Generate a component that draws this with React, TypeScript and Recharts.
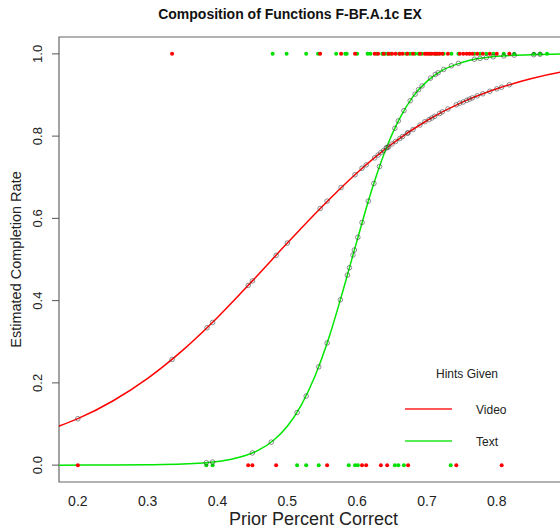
import React from 'react';
import {
  ComposedChart,
  Line,
  Scatter,
  XAxis,
  YAxis,
  ReferenceArea,
} from 'recharts';

// fitted curves
const videoCurveX = [0.17, 0.2, 0.25, 0.3, 0.35, 0.4, 0.45, 0.5, 0.55, 0.6, 0.65, 0.7, 0.75, 0.8, 0.85, 0.9, 0.92];
const videoCurveY = [0.093, 0.113, 0.156, 0.211, 0.279, 0.359, 0.448, 0.54, 0.629, 0.711, 0.781, 0.838, 0.882, 0.915, 0.94, 0.958, 0.963];

const textCurveX = [0.17, 0.25, 0.3, 0.35, 0.4, 0.42, 0.44, 0.46, 0.48, 0.5, 0.52, 0.54, 0.56, 0.58, 0.6, 0.62, 0.64, 0.66, 0.68, 0.7, 0.72, 0.75, 0.8, 0.85, 0.92];
const textCurveY = [0, 0.0002, 0.0008, 0.0026, 0.0089, 0.0145, 0.0234, 0.0377, 0.06, 0.0945, 0.146, 0.218, 0.312, 0.426, 0.547, 0.664, 0.763, 0.84, 0.896, 0.933, 0.958, 0.979, 0.994, 0.998, 1.0];

// observed outcomes (completed = 1, not completed = 0)
const videoDone = [0.335, 0.547, 0.577, 0.597, 0.625, 0.63, 0.638, 0.645, 0.65, 0.655, 0.661, 0.665, 0.672, 0.68, 0.69, 0.697, 0.7, 0.703, 0.707, 0.711, 0.714, 0.718, 0.722, 0.73, 0.747, 0.752, 0.757, 0.761, 0.765, 0.772, 0.78, 0.79, 0.8, 0.818];
const videoNotDone = [0.2, 0.444, 0.45, 0.484, 0.557, 0.607, 0.613, 0.634, 0.643, 0.673, 0.742, 0.807];
const textDone = [0.479, 0.499, 0.527, 0.544, 0.57, 0.583, 0.585, 0.6, 0.615, 0.619, 0.628, 0.636, 0.64, 0.644, 0.648, 0.66, 0.67, 0.676, 0.683, 0.688, 0.693, 0.705, 0.712, 0.716, 0.724, 0.735, 0.745, 0.768, 0.776, 0.785, 0.795, 0.81, 0.825, 0.853, 0.862, 0.872];
const textNotDone = [0.384, 0.393, 0.514, 0.527, 0.545, 0.588, 0.597, 0.601, 0.654, 0.659, 0.667, 0.734];

// fitted values per student (open circles)
const videoFitX = [0.2, 0.335, 0.385, 0.393, 0.444, 0.45, 0.484, 0.5, 0.547, 0.557, 0.577, 0.597, 0.607, 0.613, 0.625, 0.63, 0.634, 0.638, 0.643, 0.645, 0.65, 0.655, 0.661, 0.665, 0.672, 0.673, 0.68, 0.69, 0.697, 0.703, 0.707, 0.711, 0.718, 0.722, 0.73, 0.742, 0.747, 0.752, 0.757, 0.761, 0.765, 0.772, 0.78, 0.79, 0.8, 0.807, 0.818];
const videoFitY = [0.113, 0.257, 0.334, 0.347, 0.437, 0.448, 0.51, 0.54, 0.624, 0.642, 0.675, 0.706, 0.722, 0.73, 0.747, 0.754, 0.76, 0.765, 0.772, 0.774, 0.781, 0.787, 0.794, 0.799, 0.807, 0.808, 0.816, 0.827, 0.835, 0.84, 0.844, 0.848, 0.855, 0.859, 0.866, 0.876, 0.88, 0.883, 0.887, 0.89, 0.893, 0.898, 0.903, 0.909, 0.915, 0.919, 0.925];
const textFitX = [0.384, 0.393, 0.45, 0.477, 0.514, 0.527, 0.545, 0.557, 0.576, 0.586, 0.589, 0.594, 0.596, 0.601, 0.607, 0.616, 0.624, 0.632, 0.642, 0.654, 0.659, 0.667, 0.676, 0.683, 0.688, 0.693, 0.705, 0.712, 0.716, 0.724, 0.735, 0.745, 0.768, 0.776, 0.785, 0.795, 0.81, 0.825, 0.853, 0.862];
const textFitY = [0.006, 0.0075, 0.0298, 0.056, 0.128, 0.168, 0.239, 0.297, 0.402, 0.462, 0.48, 0.511, 0.523, 0.554, 0.59, 0.642, 0.685, 0.726, 0.772, 0.819, 0.837, 0.862, 0.886, 0.902, 0.913, 0.922, 0.941, 0.95, 0.954, 0.962, 0.971, 0.977, 0.987, 0.989, 0.991, 0.993, 0.995, 0.997, 0.998, 0.999];

const xTicks = [0.2, 0.3, 0.4, 0.5, 0.6, 0.7, 0.8];
const yTicks = [0, 0.2, 0.4, 0.6, 0.8, 1.0];

const zip = (xs: number[], ys: number[]) => xs.map((x, i) => ({ x, y: ys[i] }));
const row = (xs: number[], y: number) => xs.map((x) => ({ x, y }));

const videoCurve = zip(videoCurveX, videoCurveY);
const textCurve = zip(textCurveX, textCurveY);
const videoFit = zip(videoFitX, videoFitY);
const textFit = zip(textFitX, textFitY);
const videoObs = [...row(videoDone, 1), ...row(videoNotDone, 0)];
const textObs = [...row(textDone, 1), ...row(textNotDone, 0)];

const FONT = '"Liberation Sans", Arial, sans-serif';
const X_MIN = 0.173;
const X_MAX = 0.902;
const Y_MIN = -0.041;
const Y_MAX = 1.041;

const dotShape = (color: string) => (props: any) => (
  <circle cx={props.cx} cy={props.cy} r={2} fill={color} stroke="none" />
);

const ringShape = (props: any) => (
  <circle cx={props.cx} cy={props.cy} r={2.3} fill="none" stroke="#444" strokeOpacity={0.75} strokeWidth={0.8} />
);

const YTick = (props: any) => {
  const { x, y, payload } = props;
  return (
    <text
      x={x - 12}
      y={y}
      transform={`rotate(-90 ${x - 12} ${y})`}
      textAnchor="middle"
      dominantBaseline="central"
      fontSize={13}
      fontFamily={FONT}
      fill="#222"
    >
      {payload.value.toFixed(1)}
    </text>
  );
};

const XTick = (props: any) => {
  const { x, y, payload } = props;
  return (
    <text x={x} y={y + 11} textAnchor="middle" dominantBaseline="central" fontSize={14} fontFamily={FONT} fill="#222">
      {payload.value.toFixed(1)}
    </text>
  );
};

const HintsLegend = () => (
  <svg width={160} height={90} style={{ fontFamily: FONT, display: 'block' }}>
    <text x={62} y={12} textAnchor="middle" dominantBaseline="central" fontSize={12} fill="#222">
      Hints Given
    </text>
    <line x1={0} y1={47} x2={47} y2={47} stroke="#ff2020" strokeWidth={1.6} />
    <text x={71} y={48} dominantBaseline="central" fontSize={12} fill="#222">Video</text>
    <line x1={0} y1={79} x2={47} y2={79} stroke="#22e622" strokeWidth={1.6} />
    <text x={71} y={80} dominantBaseline="central" fontSize={12} fill="#222">Text</text>
  </svg>
);

export default function App() {
  return (
    <div style={{ position: 'absolute', left: 0, top: 0, width: 560, height: 529, overflow: 'hidden', background: '#fff' }}>
      <div style={{ position: 'absolute', left: 290, top: 6, transform: 'translateX(-50%)', whiteSpace: 'nowrap', fontFamily: FONT, fontWeight: 'bold', fontSize: 14, color: '#111' }}>
        Composition of Functions F-BF.A.1c EX
      </div>
      <ComposedChart width={580} height={529} margin={{ top: 37, right: 12, bottom: 0, left: 0 }}>
        <XAxis
          type="number"
          dataKey="x"
          domain={[X_MIN, X_MAX]}
          allowDataOverflow
          ticks={xTicks}
          tick={<XTick />}
          tickLine={false}
          axisLine={false}
          height={47}
          label={{ value: 'Prior Percent Correct', position: 'insideBottom', offset: 4, fontSize: 18, fontFamily: FONT, fill: '#222' }}
        />
        <YAxis
          type="number"
          dataKey="y"
          domain={[Y_MIN, Y_MAX]}
          allowDataOverflow
          ticks={yTicks}
          tick={<YTick />}
          tickLine={{ stroke: '#555' }}
          tickSize={7}
          axisLine={false}
          width={59}
          label={{ value: 'Estimated Completion Rate', angle: -90, position: 'insideLeft', offset: 16, fontSize: 14.5, fontFamily: FONT, fill: '#222', style: { textAnchor: 'middle' } }}
        />
        <ReferenceArea x1={X_MIN} x2={X_MAX} y1={Y_MIN} y2={Y_MAX} fill="none" stroke="#666" strokeWidth={1.2} ifOverflow="visible" />
        <Scatter data={textObs} shape={dotShape('#00e000')} isAnimationActive={false} />
        <Scatter data={videoObs} shape={dotShape('#ff0000')} isAnimationActive={false} />
        <Line data={videoCurve} dataKey="y" type="monotone" stroke="#ff0000" strokeWidth={1.5} dot={false} activeDot={false} isAnimationActive={false} />
        <Line data={textCurve} dataKey="y" type="monotone" stroke="#00e600" strokeWidth={1.5} dot={false} activeDot={false} isAnimationActive={false} />
        <Scatter data={videoFit} shape={ringShape} isAnimationActive={false} />
        <Scatter data={textFit} shape={ringShape} isAnimationActive={false} />
      </ComposedChart>
      <div style={{ position: 'absolute', left: 405, top: 362 }}>
        <HintsLegend />
      </div>
    </div>
  );
}
